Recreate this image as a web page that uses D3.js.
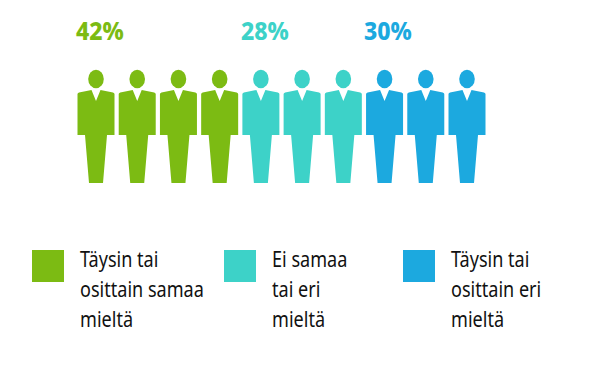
<!DOCTYPE html>
<html>
<head>
<meta charset="utf-8">
<script src="https://cdn.jsdelivr.net/npm/d3@7"></script>
<style>
  html, body { margin: 0; background: #fff; }
  svg { display: block; }
  text { font-family: "Noto Sans", sans-serif; }
</style>
</head>
<body>
<div id="chart"></div>
<script>
// Chart data
const categories = ["Täysin tai osittain samaa mieltä", "Ei samaa tai eri mieltä", "Täysin tai osittain eri mieltä"];
const shares = [42, 28, 30];
const figureCounts = [4, 3, 3];
const legendLines = [
  ["Täysin tai", "osittain samaa", "mieltä"],
  ["Ei samaa", "tai eri", "mieltä"],
  ["Täysin tai", "osittain eri", "mieltä"]
];
const colors = ["#7cbb13", "#3dd2c8", "#1ca9df"];

const width = 600;
const height = 370;

const svg = d3.select("#chart")
  .append("svg")
  .attr("width", width)
  .attr("height", height);

// One figure per slot, left to right
const people = categories.flatMap((c, i) => d3.range(figureCounts[i]).map(() => i));
const xScale = d3.scaleLinear().domain([0, people.length - 1]).range([96, 467]);

// Person outline around its own centre line
const body = "M-18.5,-41 Q-18.5,-42 -17,-42.5 L-4.5,-45 L0,-34 L4.5,-45 L17,-42.5 Q18.5,-42 18.5,-41"
  + " L18.5,0 L11,0 L7,48 L-7,48 L-11,0 L-18.5,0 Z";

const figure = svg.selectAll("g.person")
  .data(people)
  .join("g")
  .attr("class", "person")
  .attr("transform", (d, i) => `translate(${xScale(i)},135)`)
  .attr("fill", d => colors[d]);

figure.append("ellipse")
  .attr("cy", -56)
  .attr("rx", 7.8)
  .attr("ry", 9.2);

figure.append("path").attr("d", body);

// Percent labels
const labelX = [76, 241, 364];

svg.selectAll("text.share")
  .data(shares)
  .join("text")
  .attr("class", "share")
  .attr("transform", (d, i) => `translate(${labelX[i]},40) scale(0.92,1)`)
  .attr("fill", (d, i) => colors[i])
  .attr("font-size", 25)
  .attr("font-weight", 800)
  .text(d => `${d}%`);

// Legend
const legendX = [32, 224, 403];
const legend = svg.selectAll("g.legend")
  .data(categories)
  .join("g")
  .attr("class", "legend")
  .attr("transform", (d, i) => `translate(${legendX[i]},250)`);

legend.append("rect")
  .attr("width", 32)
  .attr("height", 32)
  .attr("fill", (d, i) => colors[i]);

legend.selectAll("text")
  .data((d, i) => legendLines[i])
  .join("text")
  .attr("transform", (d, j) => `translate(48,${17 + j * 30}) scale(0.86,1)`)
  .attr("fill", "#111")
  .attr("font-size", 21)
  .text(d => d);
</script>
</body>
</html>
